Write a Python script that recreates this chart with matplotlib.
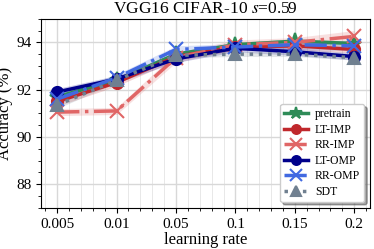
import matplotlib
matplotlib.use("Agg")
import matplotlib.pyplot as plt
import numpy as np
from matplotlib.ticker import AutoMinorLocator, MultipleLocator

plt.rcParams['font.family'] = ['Liberation Serif', 'DejaVu Serif']
plt.rcParams['mathtext.fontset'] = 'stix'

lr_labels = ['0.005', '0.01', '0.05', '0.1', '0.15', '0.2']

pretrain = [91.7, 92.4, 93.5, 93.9, 94.05, 93.95]
lt_imp = [91.5, 92.3, 93.4, 93.8, 93.85, 93.7]
rr_imp = [91.05, 91.1, 93.35, 93.9, 94.0, 94.25]
lt_omp = [91.9, 92.45, 93.3, 93.75, 93.6, 93.4]
rr_omp = [91.6, 92.5, 93.7, 93.8, 93.9, 93.85]
sdt = [91.35, 92.4, 93.45, 93.5, 93.5, 93.35]

pretrain_std = [0.15, 0.12, 0.1, 0.1, 0.1, 0.1]
lt_imp_std = [0.2, 0.15, 0.15, 0.15, 0.15, 0.15]
rr_imp_std = [0.15, 0.15, 0.2, 0.2, 0.2, 0.25]
lt_omp_std = [0.15, 0.15, 0.15, 0.15, 0.15, 0.15]
rr_omp_std = [0.2, 0.15, 0.15, 0.15, 0.2, 0.2]
sdt_std = [0.15, 0.1, 0.1, 0.1, 0.1, 0.1]

series = [
    ('pretrain', pretrain, pretrain_std, '#2e8b57', '*', '-', 11),
    ('LT-IMP', lt_imp, lt_imp_std, '#c0282c', 'o', '-', 8),
    ('RR-IMP', rr_imp, rr_imp_std, '#e06666', 'x', '-.', 10),
    ('LT-OMP', lt_omp, lt_omp_std, '#00008b', 'o', '-', 8),
    ('RR-OMP', rr_omp, rr_omp_std, '#4169e1', 'x', '-.', 10),
    ('SDT', sdt, sdt_std, '#708090', '^', ':', 9),
]

x = np.arange(len(lr_labels))

fig, ax = plt.subplots(figsize=(3.74, 2.49), dpi=100)

for name, vals, std, color, marker, ls, ms in series:
    vals = np.array(vals)
    std = np.array(std)
    ax.fill_between(x, vals - std, vals + std, color=color, alpha=0.2, linewidth=0)
    ax.plot(x, vals, color=color, marker=marker, linestyle=ls, linewidth=2.5,
            markersize=ms, markeredgewidth=1.5, label=name)

ax.set_xticks(x)
ax.set_xticklabels(lr_labels)
ax.set_xlim(-0.27, 5.27)
ax.set_ylim(87, 95)
ax.set_yticks([88, 90, 92, 94])
ax.xaxis.set_minor_locator(MultipleLocator(0.2))
ax.yaxis.set_minor_locator(AutoMinorLocator(4))
ax.grid(True, which='major', color='#d8d8d8', linewidth=1)
ax.grid(True, which='minor', axis='x', color='#e8e8e8', linewidth=0.7)
ax.set_axisbelow(True)
ax.tick_params(labelsize=11)

ax.set_xlabel('learning rate', fontsize=12, labelpad=1)
ax.set_ylabel('Accuracy (%)', fontsize=12, labelpad=2)
ax.set_title('VGG16 CIFAR-10 $s$=0.59', fontsize=12.5, pad=4)

ax.legend(loc='lower right', fontsize=8.5, shadow=True, fancybox=True,
          handlelength=2.0, labelspacing=0.3, borderpad=0.35, markerscale=0.8,
          handletextpad=0.6, framealpha=1)

fig.subplots_adjust(left=0.11, right=0.99, top=0.925, bottom=0.165)
fig.savefig('out.png', dpi=100)
